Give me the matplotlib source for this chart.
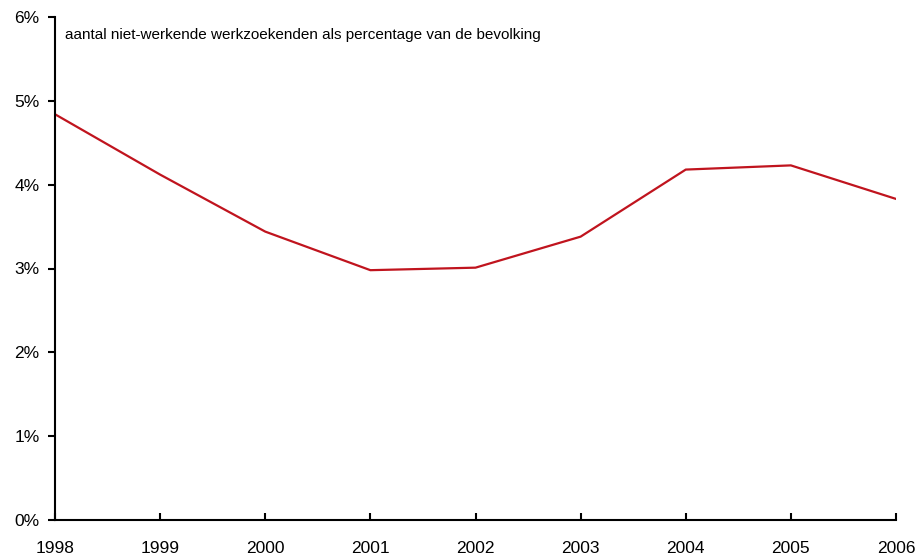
import matplotlib
matplotlib.use("Agg")
import matplotlib.pyplot as plt
from matplotlib.ticker import PercentFormatter

# data
years = [1998, 1999, 2000, 2001, 2002, 2003, 2004, 2005, 2006]
share = [4.84, 4.12, 3.44, 2.98, 3.01, 3.38, 4.18, 4.23, 3.83]
yticks = [0, 1, 2, 3, 4, 5, 6]
note = "aantal niet-werkende werkzoekenden als percentage van de bevolking"

plt.rcParams['font.family'] = ['Liberation Sans', 'DejaVu Sans']

fig = plt.figure(figsize=(9.2, 5.59), dpi=100)
ax = fig.add_axes([55 / 920, 39 / 559, 841 / 920, 503 / 559])

ax.plot(years, share, color='#c0141e', linewidth=1.6)

ax.set_xlim(years[0], years[-1])
ax.set_ylim(0, 6)
ax.set_xticks(years)
ax.set_yticks(yticks)
ax.yaxis.set_major_formatter(PercentFormatter(decimals=0))

for side in ('top', 'right'):
    ax.spines[side].set_visible(False)
for side in ('left', 'bottom'):
    ax.spines[side].set_linewidth(1.5)
    ax.spines[side].set_color('black')

ax.tick_params(axis='x', direction='in', length=5, width=1.5, labelsize=12.5, pad=15)
ax.tick_params(axis='y', direction='out', length=5, width=1.5, labelsize=12.5, pad=6)

ax.text(0.012, 0.965, note, transform=ax.transAxes, fontsize=11,
        va='center', ha='left')

fig.savefig('out.png', dpi=100)
